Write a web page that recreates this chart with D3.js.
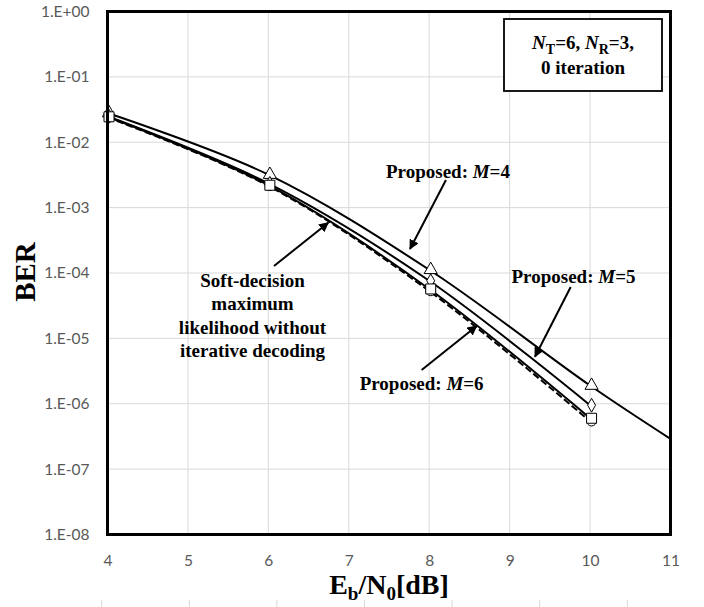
<!DOCTYPE html>
<html>
<head>
<meta charset="utf-8">
<script src="https://cdn.jsdelivr.net/npm/d3@7"></script>
<style>
  body { margin: 0; background: #fff; }
  svg { display: block; }
</style>
</head>
<body>
<div id="ber-chart"></div>
<script>
// Eb/N0 points (dB)
const snr = [4, 6, 8, 10];
const snrM4 = [4, 6, 8, 10, 11];

// BER values
const berM4 = [2.8e-2, 3.2e-3, 1.12e-4, 1.9e-6, 2.9e-7];
const berM5 = [2.5e-2, 2.35e-3, 7.6e-5, 9.5e-7];
const berM6 = [2.45e-2, 2.2e-3, 5.7e-5, 6.0e-7];
const berML = [2.4e-2, 2.15e-3, 5.3e-5, 5.4e-7];

const xTicks = [4, 5, 6, 7, 8, 9, 10, 11];
const yExponents = [0, -1, -2, -3, -4, -5, -6, -7, -8];

// annotation anchors in data units: [x dB, BER]
const labelM4 = { text: 'M=4', at: [8.233, 2.84e-3], from: [8.208, 2.65e-3], to: [7.761, 2.33e-4] };
const labelM5 = { text: 'M=5', at: [9.794, 6.95e-5], from: [9.759, 6.1e-5], to: [9.315, 5.25e-6] };
const labelM6 = { text: 'M=6', at: [7.906, 1.62e-6], from: [7.906, 3.28e-6], to: [8.590, 1.55e-5] };
const mlLines = ['Soft-decision', 'maximum', 'likelihood without', 'iterative decoding'];
const labelML = { at: [5.803, 6.17e-5], from: [6.070, 1.28e-4], to: [6.745, 5.88e-4] };

function drawBerChart() {
    const W = 704, H = 607;
    const margin = { top: 11.5, right: 33.5, bottom: 72.5, left: 107.5 };
    const width = W - margin.left - margin.right;
    const height = H - margin.top - margin.bottom;

    const x = d3.scaleLinear().domain([4, 11]).range([0, width]);
    const y = d3.scaleLog().domain([1e-8, 1]).range([height, 0]);

    const svg = d3.select('#ber-chart').append('svg')
      .attr('width', W)
      .attr('height', H);

    const g = svg.append('g')
      .attr('transform', `translate(${margin.left},${margin.top})`);

    svg.append('defs').append('clipPath').attr('id', 'plot-clip')
      .append('rect').attr('width', width).attr('height', height);

    // grid
    g.append('g').selectAll('line').data(xTicks.slice(1, -1)).join('line')
      .attr('x1', d => x(d)).attr('x2', d => x(d))
      .attr('y1', 0).attr('y2', height)
      .attr('stroke', '#d9d9d9').attr('stroke-width', 1);
    g.append('g').selectAll('line').data(yExponents.slice(1, -1)).join('line')
      .attr('x1', 0).attr('x2', width)
      .attr('y1', d => y(Math.pow(10, d))).attr('y2', d => y(Math.pow(10, d)))
      .attr('stroke', '#d9d9d9').attr('stroke-width', 1);

    // axes
    const fmt = e => `1.E${e >= 0 ? '+' : '-'}${String(Math.abs(e)).padStart(2, '0')}`;
    const yAxis = g.append('g')
      .call(d3.axisLeft(y)
        .tickValues(yExponents.map(e => Math.pow(10, e)))
        .tickFormat(d => fmt(Math.round(Math.log10(d))))
        .tickSize(0).tickPadding(18));
    const xAxis = g.append('g')
      .attr('transform', `translate(0,${height})`)
      .call(d3.axisBottom(x).tickValues(xTicks).tickFormat(d3.format('d'))
        .tickSize(0).tickPadding(20));
    [xAxis, yAxis].forEach(a => {
      a.select('.domain').remove();
      a.selectAll('text')
        .attr('fill', '#595959')
        .style('font-family', 'Lato, "Open Sans", sans-serif')
        .style('font-size', '15.5px');
    });

    // curves
    const line = d3.line()
      .x(d => x(d[0]))
      .y(d => y(d[1]))
      .curve(d3.curveCatmullRom.alpha(0.5));

    const series = [
      { xs: snrM4, ys: berM4, symbol: d3.symbolTriangle, size: 75, dash: null },
      { xs: snr, ys: berM5, symbol: d3.symbolDiamond, size: 55, dash: null },
      { xs: snr, ys: berML, symbol: d3.symbolCircle, size: 70, dash: '7,3' },
      { xs: snr, ys: berM6, symbol: d3.symbolSquare, size: 100, dash: null }
    ];

    const plot = g.append('g').attr('clip-path', 'url(#plot-clip)');
    series.forEach(s => {
      const pts = s.xs.map((v, i) => [v, s.ys[i]]);
      plot.append('path')
        .datum(pts)
        .attr('fill', 'none')
        .attr('stroke', '#000')
        .attr('stroke-width', 2)
        .attr('stroke-dasharray', s.dash)
        .attr('d', line);
    });
    series.forEach(s => {
      const pts = s.xs.map((v, i) => [v, s.ys[i]]).filter(p => p[0] < 11);
      g.append('g').selectAll('path').data(pts).join('path')
        .attr('transform', d => `translate(${x(d[0]) + 1.5},${y(d[1])})`)
        .attr('d', d3.symbol().type(s.symbol).size(s.size))
        .attr('fill', '#fff')
        .attr('stroke', '#000')
        .attr('stroke-width', 1);
    });

    // plot border
    g.append('rect')
      .attr('width', width).attr('height', height)
      .attr('fill', 'none').attr('stroke', '#000').attr('stroke-width', 3);

    // arrows
    svg.select('defs').append('marker')
      .attr('id', 'head').attr('viewBox', '0 0 10 10')
      .attr('refX', 9).attr('refY', 5)
      .attr('markerWidth', 5).attr('markerHeight', 5)
      .attr('orient', 'auto')
      .append('path').attr('d', 'M0,0 L10,5 L0,10 z').attr('fill', '#000');

    const serif = '"Liberation Serif", "DejaVu Serif", serif';
    [labelM4, labelM5, labelM6, labelML].forEach(a => {
      g.append('line')
        .attr('x1', x(a.from[0])).attr('y1', y(a.from[1]))
        .attr('x2', x(a.to[0])).attr('y2', y(a.to[1]))
        .attr('stroke', '#000').attr('stroke-width', 2)
        .attr('marker-end', 'url(#head)');
    });

    [labelM4, labelM5, labelM6].forEach(a => {
      const t = g.append('text')
        .attr('x', x(a.at[0])).attr('y', y(a.at[1]))
        .attr('text-anchor', 'middle')
        .style('font-family', serif).style('font-size', '19px').style('font-weight', 'bold');
      t.append('tspan').text('Proposed: ');
      t.append('tspan').style('font-style', 'italic').text('M');
      t.append('tspan').text(a.text.slice(1));
    });

    const ml = g.append('text')
      .attr('text-anchor', 'middle')
      .style('font-family', serif).style('font-size', '19px').style('font-weight', 'bold');
    mlLines.forEach((s, i) => {
      ml.append('tspan')
        .attr('x', x(labelML.at[0]))
        .attr('y', y(labelML.at[1]) + i * 23.4)
        .text(s);
    });

    // info box
    const box = svg.append('g').attr('transform', 'translate(504,19)');
    box.append('rect')
      .attr('width', 158).attr('height', 72)
      .attr('fill', '#fff').attr('stroke', '#000').attr('stroke-width', 1.8);
    const t1 = box.append('text')
      .attr('x', 79).attr('y', 30)
      .attr('text-anchor', 'middle')
      .style('font-family', serif).style('font-size', '19px').style('font-weight', 'bold');
    t1.append('tspan').style('font-style', 'italic').text('N');
    t1.append('tspan').attr('dy', 5).style('font-size', '14px').text('T');
    t1.append('tspan').attr('dy', -5).text('=6, ');
    t1.append('tspan').style('font-style', 'italic').text('N');
    t1.append('tspan').attr('dy', 5).style('font-size', '14px').text('R');
    t1.append('tspan').attr('dy', -5).text('=3,');
    box.append('text')
      .attr('x', 79).attr('y', 55)
      .attr('text-anchor', 'middle')
      .style('font-family', serif).style('font-size', '19px').style('font-weight', 'bold')
      .text('0 iteration');

    // axis titles
    const xt = svg.append('text')
      .attr('x', margin.left + width / 2).attr('y', 594)
      .attr('text-anchor', 'middle')
      .style('font-family', serif).style('font-size', '28px').style('font-weight', 'bold');
    xt.append('tspan').text('E');
    xt.append('tspan').attr('dy', 6).style('font-size', '19px').text('b');
    xt.append('tspan').attr('dy', -6).text('/N');
    xt.append('tspan').attr('dy', 6).style('font-size', '19px').text('0');
    xt.append('tspan').attr('dy', -6).text('[dB]');

    svg.append('text')
      .attr('transform', 'translate(35,272) rotate(-90)')
      .attr('text-anchor', 'middle')
      .style('font-family', serif).style('font-size', '29px').style('font-weight', 'bold')
      .text('BER');

    // faint tick stubs at the very bottom edge of the original image
    svg.append('g').selectAll('line').data(d3.range(7)).join('line')
      .attr('x1', d => 101.7 + d * 87.6).attr('x2', d => 101.7 + d * 87.6)
      .attr('y1', 600).attr('y2', 607)
      .attr('stroke', '#d9d9d9').attr('stroke-width', 1);
}

drawBerChart();
</script>
</body>
</html>
